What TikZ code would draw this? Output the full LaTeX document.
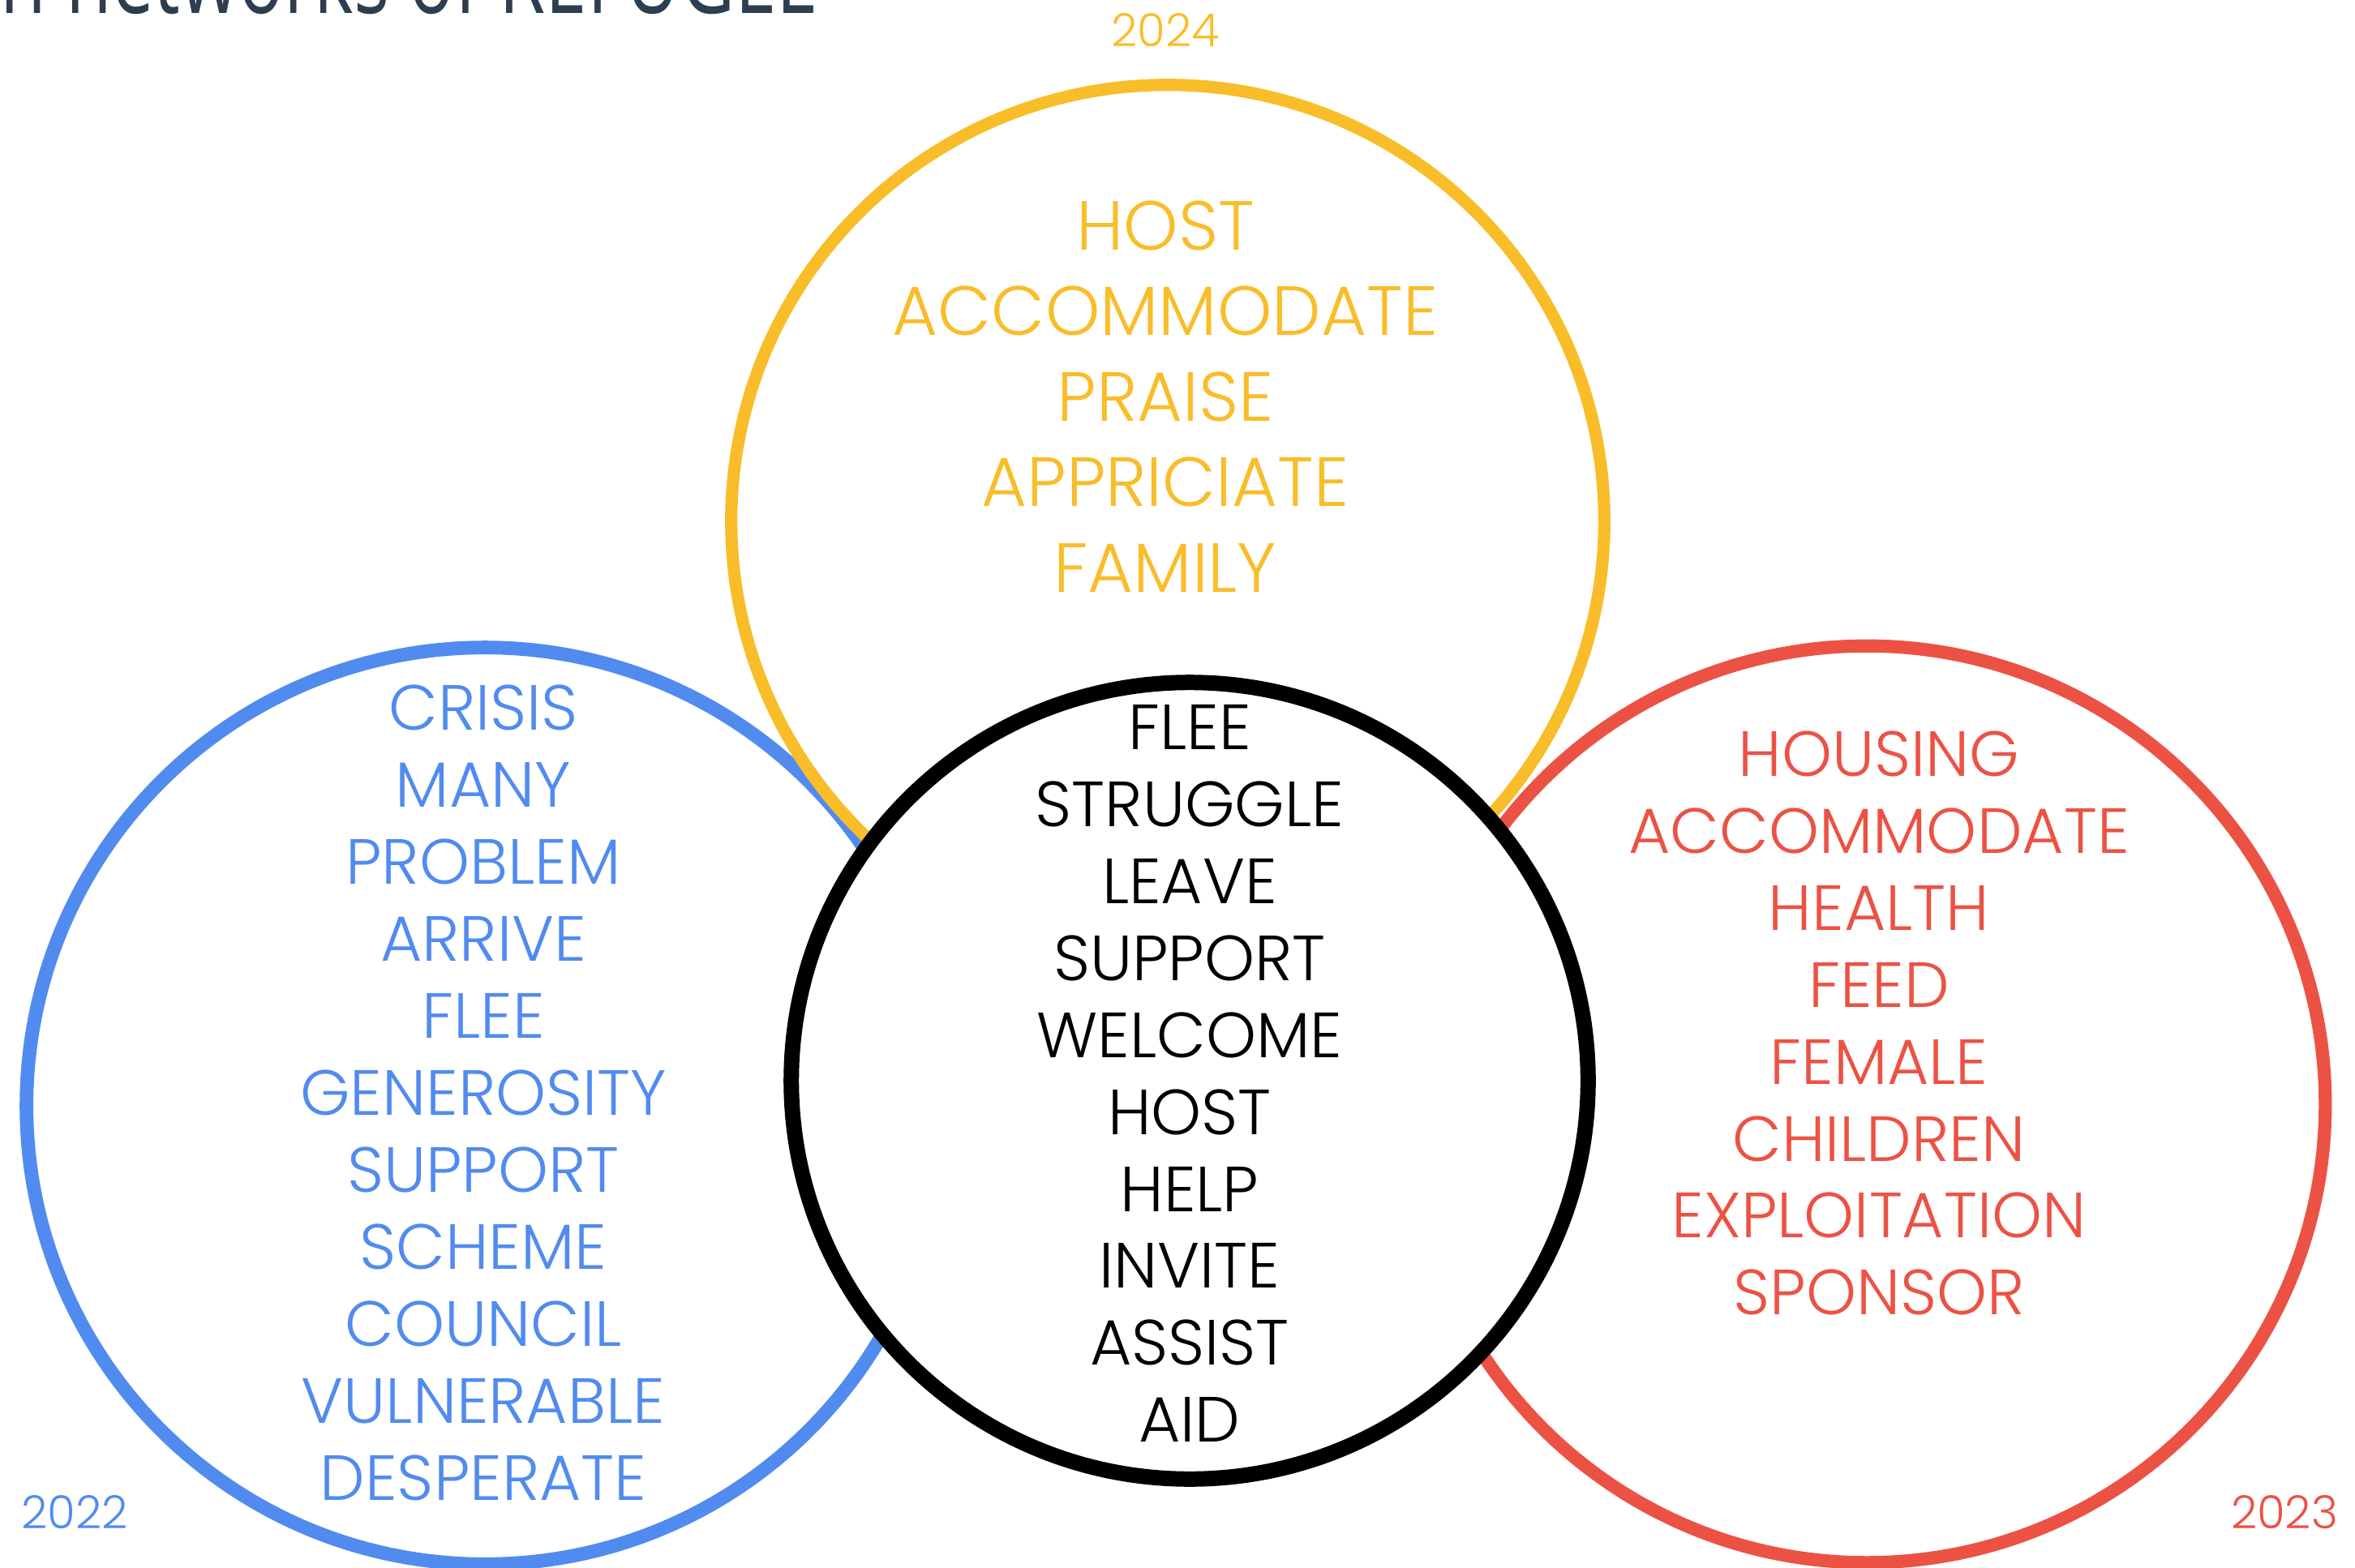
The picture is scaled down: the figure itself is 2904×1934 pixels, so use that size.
\documentclass[tikz,border=0pt]{standalone}
\usepackage{fontspec}
\setmainfont{Poppins Light}
\newfontfamily\titlefont[FakeStretch=0.72]{Open Sans}
\usepackage{xcolor}
\usetikzlibrary{positioning}
\definecolor{blueyear}{HTML}{518BEF}
\definecolor{redyear}{HTML}{EC5244}
\definecolor{yellowyear}{HTML}{F9BD2A}
\definecolor{titlegray}{HTML}{2C3E50}

\tikzset{
  ring/.style={circle, draw, inner sep=0pt},
  wordlist/.style={align=center, inner sep=0pt, font=\fontsize{22.4}{27}\selectfont},
  yearlabel/.style={inner sep=0pt, font=\fontsize{16}{19}\selectfont},
}

\begin{document}
\begin{tikzpicture}[x=0.01cm, y=-0.01cm]
\useasboundingbox (0,0) rectangle (2904,1934);

% the three years
\node (ring22) at (598,1364) [ring, blueyear, line width=4.8pt, minimum size=11.3cm] {};
\node (ring23) at (2302,1362) [ring, redyear, line width=4.6pt, minimum size=11.3cm] {};
\node (ring24) at (1440,643) [ring, yellowyear, line width=4.3pt, minimum size=10.76cm] {};
% shared words on top
\node (ringall) at (1467,1333) [ring, black, fill=white, line width=5.4pt, minimum size=9.82cm] {};

\node (words22) at (596,1348) [wordlist, blueyear] {CRISIS\\MANY\\PROBLEM\\ARRIVE\\FLEE\\GENEROSITY\\SUPPORT\\SCHEME\\COUNCIL\\VULNERABLE\\DESPERATE};
\node (words23) at (2317,1262) [wordlist, redyear] {HOUSING\\ACCOMMODATE\\HEALTH\\FEED\\FEMALE\\CHILDREN\\EXPLOITATION\\SPONSOR};
\node (words24) at (1437,489) [wordlist, yellowyear, font=\fontsize{24.4}{30}\selectfont] {HOST\\ACCOMMODATE\\PRAISE\\APPRICIATE\\FAMILY};
\node (wordsall) at (1467,1324) [wordlist, black] {FLEE\\STRUGGLE\\LEAVE\\SUPPORT\\WELCOME\\HOST\\HELP\\INVITE\\ASSIST\\AID};

\node (year22) at (92,1865) [yearlabel, blueyear] {2022};
\node (year23) at (2817,1865) [yearlabel, redyear] {2023};
\node (year24) at (1437,37) [yearlabel, yellowyear] {2024};

\node (title) at (1010,17) [anchor=base east, inner sep=0pt, titlegray, font=\titlefont\fontsize{36.5}{40}\selectfont] {n networks of REFUGEE};
\end{tikzpicture}
\end{document}
